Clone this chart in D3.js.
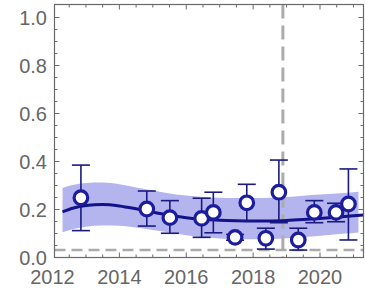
<!DOCTYPE html>
<html>
<head>
<meta charset="utf-8">
<script src="https://cdn.jsdelivr.net/npm/d3@7"></script>
<style>
  body { margin: 0; background: #fff; }
  svg { display: block; }
</style>
</head>
<body>
<div id="chart"></div>
<script>
// measured points with error bars
const years = [2012.85, 2014.82, 2015.51, 2016.46, 2016.81, 2017.46, 2017.81, 2018.38, 2018.77, 2019.35, 2019.83, 2020.48, 2020.85];
const values = [0.249, 0.202, 0.166, 0.163, 0.188, 0.084, 0.228, 0.080, 0.272, 0.073, 0.188, 0.188, 0.223];
const errLow = [0.112, 0.131, 0.101, 0.084, 0.103, 0.072, 0.152, 0.035, 0.145, 0.031, 0.145, 0.149, 0.073];
const errHigh = [0.385, 0.277, 0.237, 0.247, 0.272, 0.096, 0.305, 0.122, 0.406, 0.122, 0.237, 0.226, 0.369];

// fitted trend and its confidence band
const fitYears = [2012.3, 2012.6, 2013, 2013.5, 2014, 2014.5, 2015, 2015.5, 2016, 2016.5, 2017, 2017.5, 2018, 2018.5, 2019, 2019.5, 2020, 2020.5, 2021, 2021.3];
const fitValues = [0.19, 0.205, 0.217, 0.221, 0.215, 0.203, 0.189, 0.176, 0.166, 0.159, 0.155, 0.153, 0.152, 0.152, 0.154, 0.158, 0.163, 0.168, 0.174, 0.177];
const bandYears = [2012.3, 2012.6, 2013, 2013.5, 2014, 2014.5, 2015, 2015.5, 2016, 2016.5, 2017, 2017.5, 2018, 2018.5, 2019, 2019.5, 2020, 2020.5, 2021, 2021.15];
const bandLow = [0.105, 0.118, 0.128, 0.133, 0.132, 0.125, 0.115, 0.104, 0.093, 0.085, 0.079, 0.076, 0.076, 0.077, 0.080, 0.085, 0.091, 0.097, 0.102, 0.104];
const bandHigh = [0.29, 0.302, 0.31, 0.312, 0.305, 0.292, 0.279, 0.267, 0.258, 0.252, 0.249, 0.248, 0.248, 0.249, 0.252, 0.257, 0.262, 0.267, 0.272, 0.274];

// reference lines
const refYear = 2018.89;
const refLevel = 0.031;

const xTicks = [2012, 2014, 2016, 2018, 2020];
const yTicks = [0.0, 0.2, 0.4, 0.6, 0.8, 1.0];

const width = 365, height = 293;
const frameL = 54.5, frameR = 363.5, frameT = 4.5, frameB = 257.5;

const svg = d3.select('#chart').append('svg')
    .attr('width', width)
    .attr('height', height);

const x = d3.scaleLinear().domain([2012, 2020]).range([52.5, 320]);
const y = d3.scaleLinear().domain([0, 1]).range([frameB, frameB - 240]);

const frameColor = '#6a6a6a';
const labelColor = '#666666';

// band
const bandData = bandYears.map((t, i) => ({ t: t, lo: bandLow[i], hi: bandHigh[i] }));
svg.append('path')
    .datum(bandData)
    .attr('fill', '#b4b4ee')
    .attr('d', d3.area()
        .x(d => x(d.t))
        .y0(d => y(d.lo))
        .y1(d => y(d.hi))
        .curve(d3.curveMonotoneX));

// dashed reference lines
svg.append('line')
    .attr('x1', x(refYear)).attr('x2', x(refYear))
    .attr('y1', frameT).attr('y2', frameB)
    .attr('stroke', '#ababab')
    .attr('stroke-width', 3)
    .attr('stroke-dasharray', '14,7');

svg.append('line')
    .attr('x1', frameL).attr('x2', frameR)
    .attr('y1', y(refLevel)).attr('y2', y(refLevel))
    .attr('stroke', '#ababab')
    .attr('stroke-width', 2.5)
    .attr('stroke-dasharray', '11,6');

// trend line
const fitData = fitYears.map((t, i) => ({ t: t, v: fitValues[i] }));
svg.append('path')
    .datum(fitData)
    .attr('fill', 'none')
    .attr('stroke', '#12128a')
    .attr('stroke-width', 3)
    .attr('d', d3.line()
        .x(d => x(d.t))
        .y(d => y(d.v))
        .curve(d3.curveMonotoneX));

// error bars
const pts = years.map((t, i) => ({ t: t, v: values[i], lo: errLow[i], hi: errHigh[i] }));
const eb = svg.append('g')
    .attr('stroke', '#1a1a80')
    .attr('stroke-width', 1.6)
    .attr('fill', 'none');
const capW = 9;
pts.forEach(d => {
    eb.append('line')
        .attr('x1', x(d.t)).attr('x2', x(d.t))
        .attr('y1', y(d.lo)).attr('y2', y(d.hi));
    eb.append('line')
        .attr('x1', x(d.t) - capW).attr('x2', x(d.t) + capW)
        .attr('y1', y(d.lo)).attr('y2', y(d.lo));
    eb.append('line')
        .attr('x1', x(d.t) - capW).attr('x2', x(d.t) + capW)
        .attr('y1', y(d.hi)).attr('y2', y(d.hi));
});

// points
svg.append('g')
    .selectAll('circle')
    .data(pts)
    .enter()
    .append('circle')
    .attr('cx', d => x(d.t))
    .attr('cy', d => y(d.v))
    .attr('r', 6.8)
    .attr('fill', '#fff')
    .attr('stroke', '#1c1c9e')
    .attr('stroke-width', 3.2);

// frame
svg.append('rect')
    .attr('x', frameL).attr('y', frameT)
    .attr('width', frameR - frameL).attr('height', frameB - frameT)
    .attr('fill', 'none')
    .attr('stroke', frameColor)
    .attr('stroke-width', 1.2);

// ticks (inward, all four sides)
const ticks = svg.append('g').attr('stroke', frameColor).attr('stroke-width', 1);
const xMinor = d3.range(2012, 2021.5, 0.5).filter(t => x(t) > frameL + 1 && x(t) < frameR - 1);
xMinor.forEach(t => {
    const major = Math.abs(t / 2 - Math.round(t / 2)) < 1e-6;
    const len = major ? 5 : 3;
    ticks.append('line').attr('x1', x(t)).attr('x2', x(t)).attr('y1', frameB).attr('y2', frameB - len);
    ticks.append('line').attr('x1', x(t)).attr('x2', x(t)).attr('y1', frameT).attr('y2', frameT + len);
});
const yMinor = d3.range(0, 1.051, 0.05).filter(v => y(v) < frameB - 1 && y(v) > frameT + 1);
yMinor.forEach(v => {
    const major = Math.abs(v / 0.2 - Math.round(v / 0.2)) < 1e-6;
    const len = major ? 5 : 3;
    ticks.append('line').attr('x1', frameL).attr('x2', frameL + len).attr('y1', y(v)).attr('y2', y(v));
    ticks.append('line').attr('x1', frameR).attr('x2', frameR - len).attr('y1', y(v)).attr('y2', y(v));
});

// tick labels
svg.append('g')
    .selectAll('text')
    .data(yTicks)
    .enter()
    .append('text')
    .attr('x', 47)
    .attr('y', d => y(d))
    .attr('dy', '0.36em')
    .attr('text-anchor', 'end')
    .attr('fill', labelColor)
    .style('font-family', '"Liberation Sans", Arial, sans-serif')
    .style('font-size', '20px')
    .text(d => d.toFixed(1));

svg.append('g')
    .selectAll('text')
    .data(xTicks)
    .enter()
    .append('text')
    .attr('x', d => x(d))
    .attr('y', 284)
    .attr('text-anchor', 'middle')
    .attr('fill', labelColor)
    .style('font-family', '"Liberation Sans", Arial, sans-serif')
    .style('font-size', '20px')
    .text(d => d);
</script>
</body>
</html>
